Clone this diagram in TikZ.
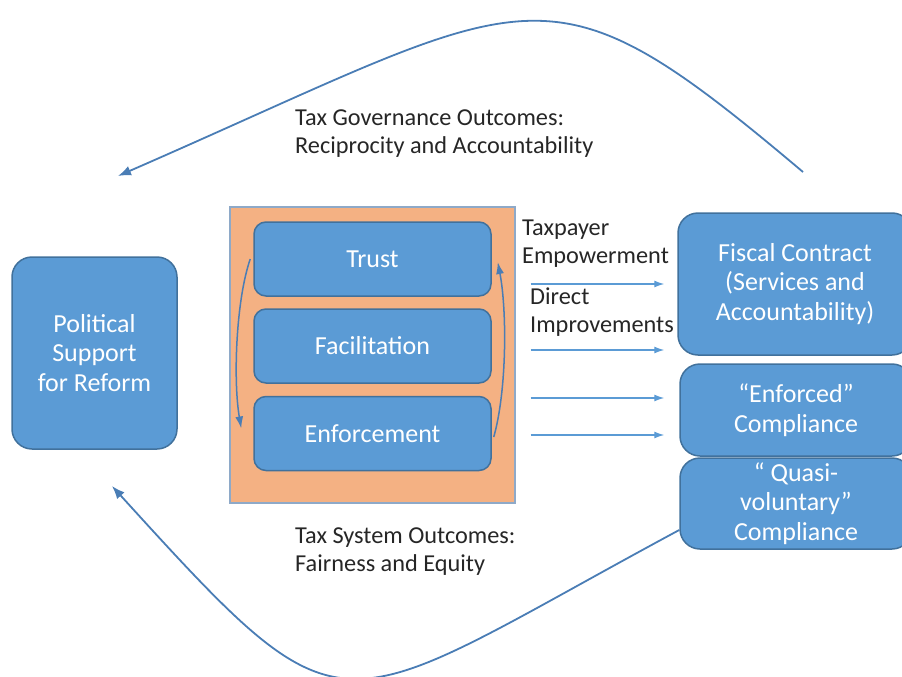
\documentclass[tikz,border=0pt]{standalone}
\usepackage{fontspec}
\setmainfont{Carlito}
\usetikzlibrary{arrows.meta}
\definecolor{boxfill}{HTML}{5B9BD5}
\definecolor{boxline}{HTML}{41719C}
\definecolor{frameor}{HTML}{F4B183}
\definecolor{frameline}{HTML}{8EA9C8}
\definecolor{curve}{HTML}{4A7DB5}
\definecolor{lbl}{HTML}{262626}
\tikzset{
  box/.style={draw=boxline,fill=boxfill,line width=1.5pt,rounded corners=20pt,
    text=white,align=center,inner sep=0pt,font=\fontsize{26}{29.5}\selectfont},
  inner/.style={box,rounded corners=12pt,minimum width=237pt,minimum height=74pt},
  lab/.style={text=lbl,align=left,anchor=west,inner sep=0pt},
  flow/.style={-{Latex[length=10pt,width=7pt]},boxfill,line width=1.3pt},
  bogen/.style={-{Latex[length=13pt,width=10pt]},curve,line width=1.8pt},
  kreis/.style={-{Latex[length=12pt,width=8pt]},curve,line width=1.5pt},
}
\begin{document}
\begin{tikzpicture}[x=1pt,y=-1pt,font=\fontsize{24.3}{28}\selectfont]
  \useasboundingbox (0,0) rectangle (902,677);
  \clip (0,0) rectangle (902,677);
  % left and right blocks
  \node[box,minimum width=165pt,minimum height=192pt] (pol) at (94.5,353)
    {Political\\Support\\for Reform};
  \node[box,minimum width=234pt,minimum height=142pt] (fiscal) at (795,284)
    {Fiscal Contract\\(Services and\\Accountability)};
  \node[box,minimum width=232pt,minimum height=92pt] (enfc) at (796,410)
    {``Enforced''\\Compliance};
  \node[box,minimum width=232pt,minimum height=91pt] (quasi) at (796,503.5)
    {`` Quasi-\\voluntary''\\Compliance};
  % centre frame
  \node[draw=frameline,fill=frameor,line width=1.3pt,minimum width=285pt,
    minimum height=296pt,inner sep=0pt] (frame) at (372.5,355) {};
  \node[inner] (trust) at (372.5,259) {Trust};
  \node[inner] (facil) at (372.5,346) {Facilitation};
  \node[inner] (enf) at (372.5,433.5) {Enforcement};
  \draw[kreis] ([xshift=-3pt]trust.west) .. controls (236,300) and (233,380)
    .. ([xshift=-12pt,yshift=5pt]enf.west);
  \draw[kreis] ([xshift=2pt,yshift=-3.5pt]enf.east) .. controls (507,390) and (507,310)
    .. ([xshift=6pt,yshift=-3pt]trust.east);
  % labels
  \node[lab] (gov) at (295,134) {Tax Governance Outcomes:\\Reciprocity and Accountability};
  \node[lab] (sys) at (295,552) {Tax System Outcomes:\\Fairness and Equity};
  \node[lab] (emp) at (522,243.5) {Taxpayer\\Empowerment};
  \node[lab] (dir) at (530,312.5) {Direct\\Improvements};
  % arrows to the right
  \foreach \y in {284,350,398,435}
    \draw[flow] ([xshift=15pt]frame.east |- 0,\y) -- ([xshift=-13pt]fiscal.west |- 0,\y);
  % feedback curves
  \coordinate (govS) at (803,172);
  \coordinate (govE) at (118,176);
  \draw[bogen] (govS) .. controls (540,-50) and (540,-8) .. (govE);
  \coordinate (sysE) at (112,486);
  \draw[bogen] ([yshift=-26.5pt]quasi.west) .. controls (328,719) and (352,750) .. (sysE);
\end{tikzpicture}
\end{document}
